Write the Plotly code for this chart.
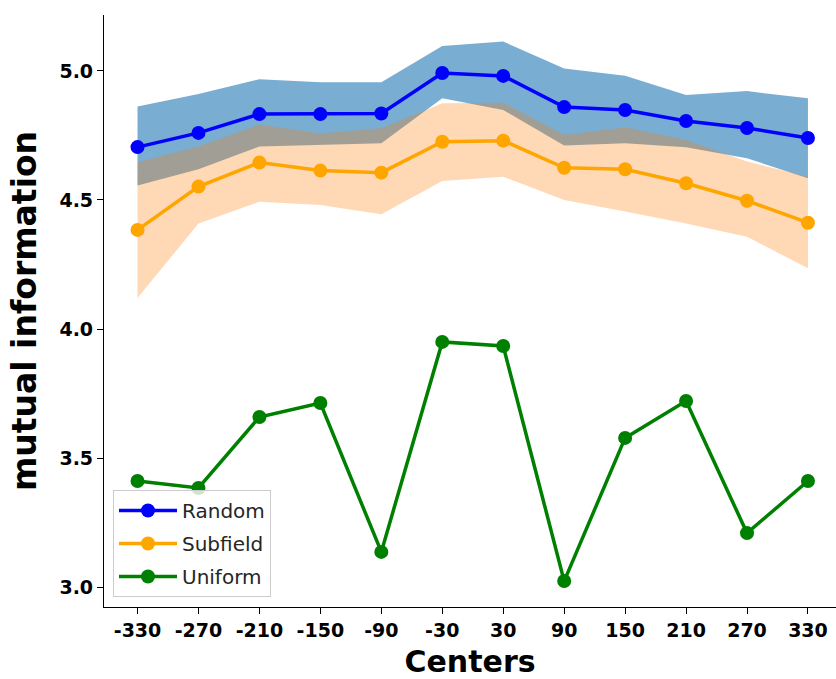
import plotly.graph_objects as go

centers = [-330, -270, -210, -150, -90, -30, 30, 90, 150, 210, 270, 330]

random_mean = [4.705, 4.760, 4.833, 4.833, 4.835, 4.992, 4.981, 4.860, 4.849, 4.806, 4.779, 4.740]
random_upper = [4.862, 4.911, 4.968, 4.956, 4.956, 5.097, 5.114, 5.010, 4.982, 4.907, 4.922, 4.894]
random_lower = [4.556, 4.619, 4.707, 4.713, 4.720, 4.894, 4.849, 4.711, 4.720, 4.704, 4.662, 4.584]

subfield_mean = [4.384, 4.552, 4.645, 4.614, 4.606, 4.726, 4.730, 4.625, 4.619, 4.565, 4.497, 4.412]
subfield_upper = [4.646, 4.707, 4.793, 4.758, 4.778, 4.875, 4.877, 4.752, 4.782, 4.733, 4.649, 4.590]
subfield_lower = [4.120, 4.409, 4.493, 4.481, 4.445, 4.574, 4.590, 4.500, 4.455, 4.409, 4.358, 4.235]

uniform_mean = [3.411, 3.384, 3.659, 3.713, 3.136, 3.950, 3.934, 3.023, 3.578, 3.721, 3.209, 3.411]

tick_labels = [str(c) for c in centers]

fig = go.Figure()

# bands
fig.add_trace(go.Scatter(x=centers, y=random_lower, mode="lines", line=dict(width=0),
                         showlegend=False, hoverinfo="skip"))
fig.add_trace(go.Scatter(x=centers, y=random_upper, mode="lines", line=dict(width=0),
                         fill="tonexty", fillcolor="rgba(31,119,180,0.6)",
                         showlegend=False, hoverinfo="skip"))
fig.add_trace(go.Scatter(x=centers, y=subfield_lower, mode="lines", line=dict(width=0),
                         showlegend=False, hoverinfo="skip"))
fig.add_trace(go.Scatter(x=centers, y=subfield_upper, mode="lines", line=dict(width=0),
                         fill="tonexty", fillcolor="rgba(255,127,14,0.3)",
                         showlegend=False, hoverinfo="skip"))

# lines
for name, vals, col in [("Random", random_mean, "blue"),
                        ("Subfield", subfield_mean, "orange"),
                        ("Uniform", uniform_mean, "green")]:
    fig.add_trace(go.Scatter(x=centers, y=vals, mode="lines+markers", name=name,
                             legendgroup=name,
                             line=dict(color=col, width=3.5),
                             marker=dict(color=col, size=14)))

fig.update_layout(
    width=836, height=679,
    margin=dict(l=104, r=0, t=15, b=72),
    plot_bgcolor="white", paper_bgcolor="white",
    font=dict(family="DejaVu Sans", color="black"),
    legend=dict(x=0.0123, y=0.0169, xanchor="left", yanchor="bottom",
                traceorder="grouped", itemwidth=58,
                bgcolor="rgba(255,255,255,0.8)", bordercolor="#cccccc", borderwidth=1,
                font=dict(family="DejaVu Sans", size=20, color="#262626"),
                tracegroupgap=4),
)

fig.update_xaxes(
    range=[-363, 357.6], tickmode="array", tickvals=centers, ticktext=tick_labels,
    showgrid=False, zeroline=False, showline=True, linecolor="black", linewidth=1.2,
    ticks="outside", ticklen=6, tickcolor="black",
    tickfont=dict(family="DejaVu Sans", size=19, weight="bold", color="black"),
    title=dict(text="Centers", font=dict(family="DejaVu Sans", size=30, weight="bold", color="black"),
               standoff=11),
)
fig.update_yaxes(
    range=[2.9225, 5.217], tickmode="array", tickvals=[3.0, 3.5, 4.0, 4.5, 5.0],
    ticktext=["3.0", "3.5", "4.0", "4.5", "5.0"],
    showgrid=False, zeroline=False, showline=True, linecolor="black", linewidth=1.2,
    ticks="outside", ticklen=6, tickcolor="black",
    tickfont=dict(family="DejaVu Sans", size=19, weight="bold", color="black"),
    title=dict(text="mutual information", font=dict(family="DejaVu Sans", size=33, weight="bold", color="black"),
               standoff=12),
)

fig.write_html("out.html")
